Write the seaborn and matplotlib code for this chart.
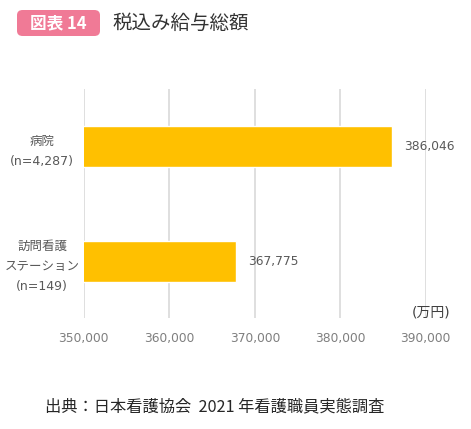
import pandas as pd
import seaborn as sns
import matplotlib.pyplot as plt
from matplotlib.patches import FancyBboxPatch
from matplotlib.ticker import FuncFormatter

# data
categories = ['病院\n(n=4,287)', '訪問看護\nステーション\n(n=149)']
salary = [386046, 367775]
x_ticks = [350000, 360000, 370000, 380000, 390000]

df = pd.DataFrame({'category': categories, 'salary': salary})

sns.set_theme(style='white')
plt.rcParams['font.family'] = ['DejaVu Sans', 'Noto Sans CJK JP']
cjk = ['Noto Sans CJK JP', 'DejaVu Sans']

fig = plt.figure(figsize=(4.71, 4.29), dpi=100)
ax = fig.add_axes([0.178, 0.259, 0.726, 0.534])

sns.barplot(data=df, x='salary', y='category', color='#FFC000', saturation=1,
            width=0.35, ax=ax, zorder=3)

ax.set_xlim(350000, 390000)
ax.set_ylim(1.49, -0.5)
ax.set_xticks(x_ticks)
ax.xaxis.set_major_formatter(FuncFormatter(lambda v, p: f'{int(v):,}'))
ax.grid(axis='x', color='#d9d9d9', linewidth=1.2, zorder=0)
for s in ax.spines.values():
    s.set_visible(False)
ax.tick_params(axis='x', colors='#7f7f7f', labelsize=8.8, length=0, pad=10)
ax.tick_params(axis='y', colors='#595959', labelsize=9, length=0, pad=30)
for lbl in ax.get_yticklabels():
    lbl.set_linespacing(1.7)
    lbl.set_horizontalalignment('center')
ax.set_xlabel('')
ax.set_ylabel('')

# value labels
for i, v in enumerate(salary):
    ax.text(v + 1400, i, f'{v:,}', va='center', ha='left', fontsize=8.8,
            color='#595959')

ax.text(1.073, 0.022, '(万円)', transform=ax.transAxes, ha='right', va='center',
        fontsize=10, color='#404040')

# title badge
badge = FancyBboxPatch((17 / 471, 1 - 36 / 429), 83 / 471, 26 / 429,
                       boxstyle='round,pad=0,rounding_size=0.012',
                       transform=fig.transFigure, facecolor='#F07A96',
                       edgecolor='none')
fig.patches.append(badge)
fig.text(58.5 / 471, 1 - 23 / 429, '図表 14', ha='center', va='center',
         color='white', fontsize=12, fontweight='bold', family=cjk)
fig.text(112 / 471, 1 - 23 / 429, '税込み給与総額', ha='left', va='center',
         color='#333333', fontsize=14, family=cjk)

fig.text(45 / 471, 1 - 407 / 429, '出典：日本看護協会  2021 年看護職員実態調査',
         ha='left', va='center', color='#262626', fontsize=11.7, family=cjk)

fig.savefig('out.png', dpi=100)
